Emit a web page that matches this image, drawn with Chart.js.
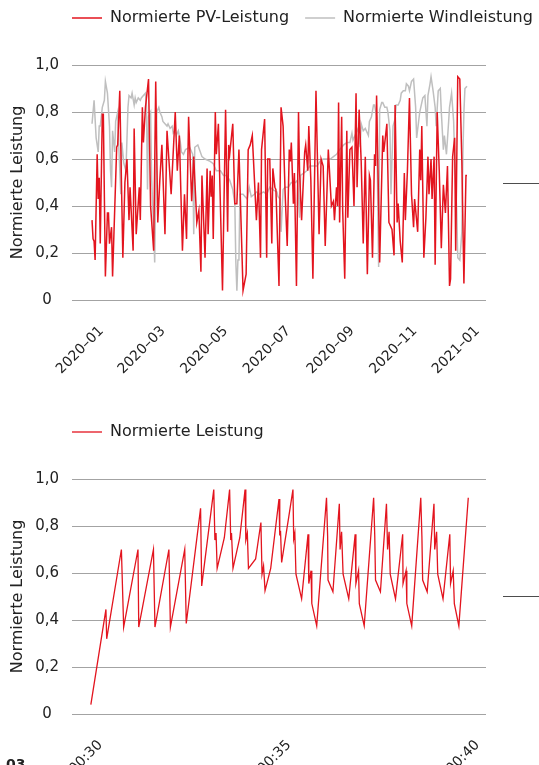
<!DOCTYPE html>
<html lang="de">
<head>
<meta charset="utf-8">
<title>Normierte Leistung</title>
<script src="https://cdn.jsdelivr.net/npm/chart.js@4.4.1/dist/chart.umd.min.js"></script>
<style>
  body { margin: 0; width: 539px; height: 765px; overflow: hidden; background: #fff; position: relative; font-family: 'DejaVu Sans', sans-serif; }
  .box { position: absolute; left: 0; }
  .box canvas { display: block; }
  .strich { position: absolute; left: 503px; width: 36px; height: 1px; background: #4d4d4d; }
  .nummer { position: absolute; left: 6px; top: 756px; font-weight: bold; font-size: 14px; color: #222; }
</style>
</head>
<body>
<div class="box" style="top:0"><canvas id="pvWind" width="539" height="380"></canvas></div>
<div class="box" style="top:414px"><canvas id="leistung" width="539" height="351"></canvas></div>
<div class="strich" style="top:183px"></div>
<div class="strich" style="top:596px"></div>
<div class="nummer">03</div>
<script>
// oben: tag im jahr 2020 (0 = 1. januar)
const pvTage = [
  0, 1, 2, 3, 5, 6, 7, 8, 10, 11,
  13, 15, 16, 17, 19, 20, 24, 25, 27, 30,
  32, 34, 36, 37, 40, 41, 43, 46, 47, 49,
  50, 52, 55, 57, 60, 62, 64, 66, 68, 71,
  73, 77, 81, 83, 85, 88, 90, 92, 94, 97,
  99, 102, 104, 106, 107, 110, 112, 113, 115, 116,
  117, 118, 120, 121, 123, 127, 130, 132, 133, 134,
  137, 139, 141, 143, 147, 150, 152, 154, 156, 157,
  160, 162, 164, 165, 168, 170, 171, 173, 175, 176,
  178, 179, 182, 184, 186, 188, 190, 192, 193, 194,
  196, 197, 199, 201, 202, 204, 207, 208, 210, 211,
  213, 215, 218, 221, 223, 225, 227, 230, 233, 235,
  236, 238, 239, 240, 241, 243, 244, 246, 248, 249,
  251, 253, 255, 257, 258, 260, 262, 264, 266, 268,
  270, 271, 273, 275, 276, 277, 280, 283, 284, 287,
  289, 290, 292, 294, 295, 297, 298, 300, 302, 304,
  305, 307, 309, 311, 313, 314, 317, 319, 320, 321,
  323, 325, 327, 328, 330, 331, 333, 334, 336, 338,
  340, 342, 344, 346, 348, 349, 351, 353, 354, 356,
  358, 360, 362, 364, 365
];
const pvWerte = [
  .34, .26, .25, .17, .62, .43, .52, .24, .79, .79,
  .10, .37, .37, .24, .31, .10, .65, .66, .89, .18,
  .50, .60, .34, .48, .21, .73, .28, .48, .34, .82,
  .67, .82, .94, .40, .21, .93, .33, .51, .66, .28,
  .72, .45, .80, .55, .70, .21, .45, .26, .78, .42,
  .61, .33, .38, .12, .53, .18, .56, .28, .55, .44,
  .53, .26, .80, .62, .75, .04, .81, .29, .66, .62,
  .75, .41, .41, .64, .04, .11, .64, .66, .70, .61,
  .34, .50, .18, .64, .77, .18, .60, .60, .24, .56,
  .48, .47, .06, .82, .74, .45, .23, .64, .59, .67,
  .41, .54, .06, .80, .55, .34, .63, .66, .55, .74,
  .51, .09, .89, .28, .60, .57, .23, .64, .40, .42,
  .34, .48, .40, .84, .33, .78, .38, .09, .72, .35,
  .64, .65, .40, .88, .48, .81, .59, .24, .61, .11,
  .53, .51, .18, .62, .57, .87, .16, .70, .63, .75,
  .33, .32, .30, .19, .83, .33, .41, .25, .16, .54,
  .34, .55, .86, .45, .31, .43, .29, .64, .51, .74,
  .18, .35, .61, .45, .60, .43, .61, .15, .80, .55,
  .22, .49, .37, .57, .06, .09, .61, .69, .21, .95,
  .94, .59, .07, .53, .53
];
const windTage = [
  0, 2, 4, 6, 7, 8, 10, 12, 13, 15,
  17, 18, 19, 20, 22, 23, 25, 26, 28, 29,
  31, 33, 35, 36, 38, 39, 41, 42, 43, 45,
  47, 48, 50, 52, 53, 54, 55, 57, 58, 60,
  61, 62, 63, 65, 66, 68, 69, 71, 73, 74,
  76, 78, 79, 81, 82, 84, 86, 87, 89, 91,
  95, 98, 99, 100, 103, 107, 110, 115, 118, 121,
  125, 128, 131, 134, 137, 139, 140, 141, 142, 143,
  144, 147, 151, 153, 155, 158, 160, 163, 167, 170,
  173, 176, 180, 181, 183, 184, 186, 188, 191, 194,
  198, 200, 202, 203, 206, 209, 212, 215, 219, 222,
  225, 228, 232, 235, 238, 241, 245, 248, 251, 253,
  254, 256, 258, 259, 261, 262, 264, 266, 267, 269,
  270, 272, 274, 275, 277, 279, 280, 282, 283, 285,
  287, 288, 290, 291, 293, 295, 296, 298, 300, 301,
  303, 305, 306, 308, 309, 311, 313, 315, 316, 319,
  322, 324, 326, 327, 329, 330, 332, 334, 335, 337,
  339, 340, 342, 343, 345, 347, 348, 350, 352, 353,
  355, 356, 358, 360, 361, 362, 363, 365
];
const windWerte = [
  .75, .85, .69, .63, .74, .74, .82, .85, .93, .88,
  .74, .55, .48, .72, .63, .76, .80, .66, .45, .67,
  .58, .55, .82, .87, .86, .88, .83, .86, .84, .86,
  .85, .86, .87, .88, .82, .47, .78, .80, .52, .30,
  .16, .50, .80, .82, .80, .78, .76, .75, .74, .75,
  .73, .74, .71, .72, .70, .72, .67, .63, .62, .64,
  .65, .62, .28, .65, .66, .61, .60, .59, .58, .55,
  .55, .53, .53, .51, .47, .41, .16, .04, .17, .17,
  .45, .45, .43, .48, .44, .45, .46, .45, .46, .45,
  .48, .47, .46, .44, .43, .29, .47, .48, .48, .50,
  .50, .51, .35, .53, .54, .55, .57, .57, .57, .59,
  .60, .60, .60, .61, .62, .64, .66, .67, .67, .71,
  .68, .70, .72, .73, .65, .75, .72, .73, .72, .70,
  .76, .78, .83, .83, .78, .14, .81, .84, .84, .82,
  .82, .80, .72, .45, .74, .77, .83, .83, .85, .88,
  .89, .89, .92, .91, .89, .93, .94, .82, .69, .80,
  .86, .87, .74, .87, .92, .95, .89, .82, .74, .89,
  .90, .80, .64, .70, .62, .75, .82, .88, .76, .60,
  .38, .18, .17, .29, .62, .80, .90, .91
];
const monatsTage = [0, 60, 121, 182, 244, 305, 366];
const monatsLabels = ['2020–01', '2020–03', '2020–05', '2020–07', '2020–09', '2020–11', '2021–01'];

// unten: minuten nach 00:30
const zeitMinuten = [
  0, .40, .42, .81, .87, 1.25, 1.27, 1.66, 1.70, 2.07,
  2.11, 2.49, 2.53, 2.91, 2.94, 3.26, 3.29, 3.32, 3.35, 3.54,
  3.68, 3.71, 3.73, 3.77, 3.95, 4.09, 4.11, 4.15, 4.18, 4.37,
  4.51, 4.54, 4.58, 4.62, 4.77, 4.99, 5.01, 5.03, 5.06, 5.25,
  5.36, 5.38, 5.41, 5.44, 5.59, 5.76, 5.78, 5.84, 5.86, 5.99,
  6.25, 6.28, 6.29, 6.42, 6.59, 6.61, 6.65, 6.69, 6.84, 7.01,
  7.03, 7.10, 7.12, 7.25, 7.50, 7.53, 7.55, 7.68, 7.84, 7.87,
  7.91, 7.94, 8.08, 8.27, 8.28, 8.36, 8.38, 8.51, 8.75, 8.78,
  8.80, 8.92, 9.10, 9.12, 9.17, 9.20, 9.34, 9.52, 9.54, 9.61,
  9.64, 9.76, 10.01
];
const leistungWerte = [
  .04, .445, .32, .70, .37, .70, .37, .70, .37, .70,
  .37, .70, .385, .875, .545, .955, .74, .77, .62, .75,
  .955, .74, .77, .62, .75, .955, .74, .77, .62, .66,
  .815, .595, .63, .525, .62, .915, .76, .78, .645, .84,
  .955, .745, .77, .595, .49, .765, .555, .61, .47, .375,
  .92, .755, .57, .52, .895, .70, .775, .595, .49, .765,
  .555, .61, .47, .375, .92, .755, .57, .52, .895, .70,
  .775, .595, .49, .765, .555, .61, .47, .375, .92, .755,
  .57, .52, .895, .70, .775, .595, .49, .765, .555, .61,
  .47, .375, .92
];
const zeitTicks = [0, 5, 10];
const zeitLabels = ['00:30', '00:35', '00:40'];

const yTicks = [0, 0.2, 0.4, 0.6, 0.8, 1.0];

const rot = '#e3141e';
const grau = '#bfbfbf';
const legendAbstand = 16;

Chart.defaults.font.family = "'DejaVu Sans', sans-serif";
Chart.defaults.color = '#222';

function punkte(xs, ys) {
  return xs.map((x, i) => ({ x: x, y: ys[i] }));
}

// legende links buendig mit der zeichenflaeche
const legendeVerschieben = {
  id: 'legendeVerschieben',
  afterLayout(chart) {
    const lg = chart.legend;
    const dx = chart.chartArea.left - legendAbstand - lg.left;
    lg.left += dx;
    lg.right += dx + 60;
    lg.top = -6;
  }
};

function optionen(xMin, xMax, xTicks, xLabels, xHoehe) {
  return {
    responsive: false,
    animation: false,
    events: [],
    layout: { padding: { top: 23, right: 0, left: 0, bottom: 0 } },
    plugins: {
      tooltip: { enabled: false },
      legend: {
        align: 'start',
        labels: {
          usePointStyle: true,
          pointStyle: 'line',
          pointStyleWidth: 30,
          padding: legendAbstand,
          color: '#222',
          font: { size: 16 }
        }
      }
    },
    scales: {
      x: {
        type: 'linear',
        min: xMin,
        max: xMax,
        grid: { display: false },
        border: { display: false },
        afterBuildTicks: a => { a.ticks = xTicks.map(v => ({ value: v })); },
        afterFit: a => { a.height = xHoehe; },
        ticks: {
          autoSkip: false,
          minRotation: 45,
          maxRotation: 45,
          padding: 15,
          labelOffset: 9.5,
          font: { size: 14 },
          callback: (v, i) => xLabels[i]
        }
      },
      y: {
        min: 0,
        max: 1,
        afterBuildTicks: a => { a.ticks = yTicks.map(v => ({ value: v })); },
        afterFit: a => { a.width = 72; },
        grid: { color: '#a3a3a3', lineWidth: 1, drawTicks: false },
        border: { display: false },
        ticks: {
          crossAlign: 'center',
          padding: 13,
          font: { size: 15 },
          callback: v => v === 0 ? '0' : v.toFixed(1).replace('.', ',')
        },
        title: {
          display: true,
          text: 'Normierte Leistung',
          font: { size: 16 },
          padding: { top: 8.5, bottom: 0 }
        }
      },
      // leerer rand rechts
      rechts: {
        position: 'right',
        grid: { display: false },
        border: { display: false },
        ticks: { display: false },
        afterFit: a => { a.width = 53; }
      }
    }
  };
}

// chart oben
new Chart(document.getElementById('pvWind'), {
  type: 'line',
  data: {
    datasets: [{
      label: 'Normierte PV-Leistung',
      data: punkte(pvTage, pvWerte),
      borderColor: rot,
      backgroundColor: rot,
      borderWidth: 1.5,
      pointRadius: 0,
      tension: 0
    }, {
      label: 'Normierte Windleistung',
      data: punkte(windTage, windWerte),
      borderColor: grau,
      backgroundColor: grau,
      borderWidth: 1.5,
      pointRadius: 0,
      tension: 0
    }]
  },
  options: optionen(-19.5, 383.5, monatsTage, monatsLabels, 80),
  plugins: [legendeVerschieben]
});

// chart unten
new Chart(document.getElementById('leistung'), {
  type: 'line',
  data: {
    datasets: [{
      label: 'Normierte Leistung',
      data: punkte(zeitMinuten, leistungWerte),
      borderColor: rot,
      backgroundColor: rot,
      borderWidth: 1.3,
      pointRadius: 0,
      tension: 0
    }]
  },
  options: optionen(-0.5, 10.48, zeitTicks, zeitLabels, 51),
  plugins: [legendeVerschieben]
});
</script>
</body>
</html>
